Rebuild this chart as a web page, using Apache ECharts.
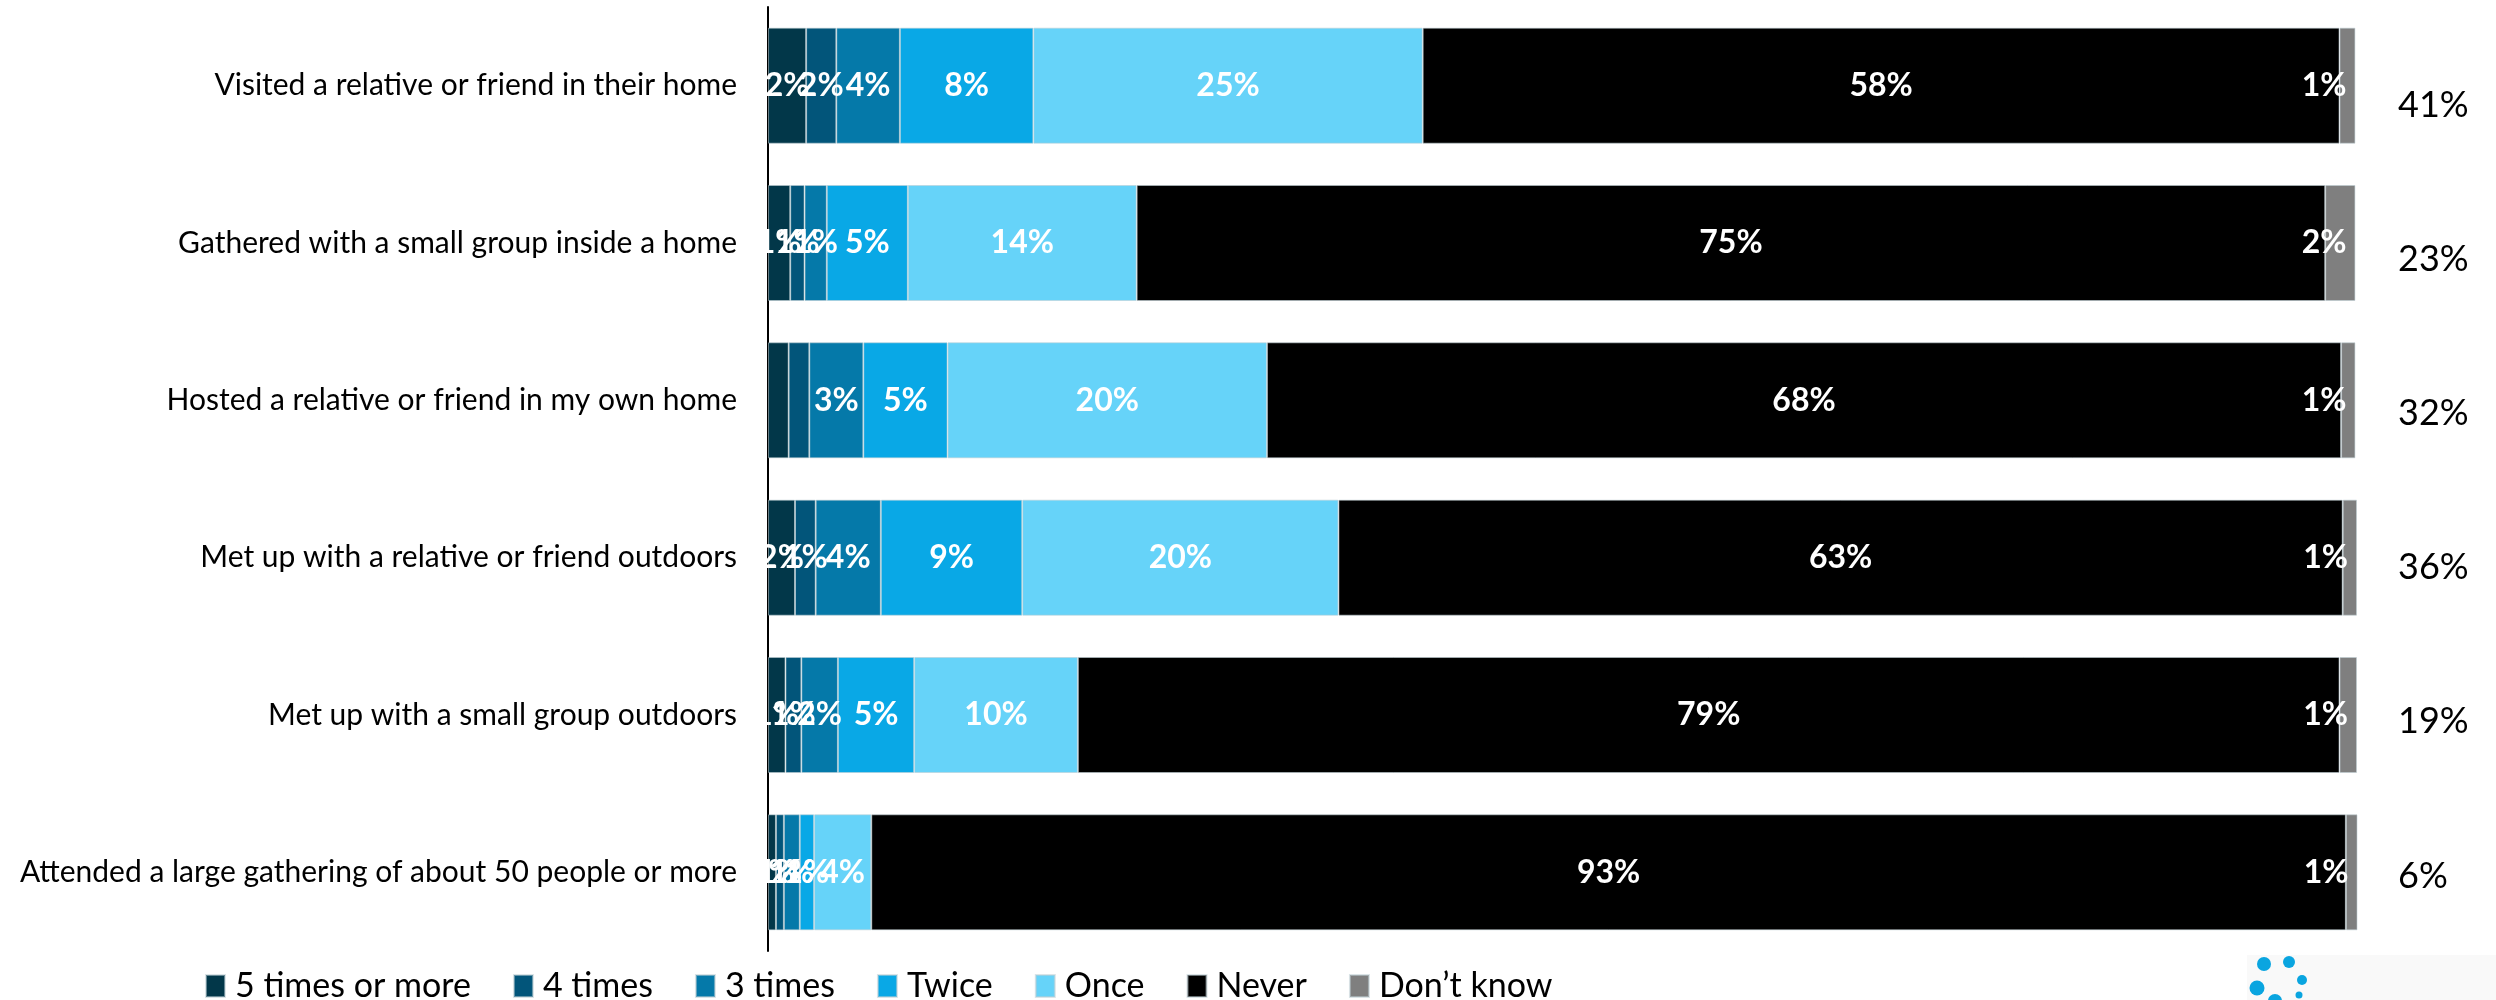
<!DOCTYPE html>
<html>
<head>
<meta charset="utf-8">
<script src="https://cdn.jsdelivr.net/npm/echarts@6/dist/echarts.min.js"></script>
<style>
  html, body { margin: 0; padding: 0; background: #ffffff; }
  #chart { width: 2496px; height: 1000px; }
</style>
</head>
<body>
<div id="chart"></div>
<script>
// Activities, top to bottom
const categories = [
  'Visited a relative or friend in their home',
  'Gathered with a small group inside a home',
  'Hosted a relative or friend in my own home',
  'Met up with a relative or friend outdoors',
  'Met up with a small group outdoors',
  'Attended a large gathering of about 50 people or more'
];

// Share of respondents (%) per answer
const fiveOrMore = [2.4, 1.4, 1.3, 1.7, 1.1, 0.5];
const fourTimes  = [1.9, 0.9, 1.3, 1.3, 1.0, 0.5];
const threeTimes = [4.0, 1.4, 3.4, 4.1, 2.3, 1.0];
const twice      = [8.4, 5.1, 5.3, 8.9, 4.8, 0.9];
const once       = [24.5, 14.4, 20.1, 19.9, 10.3, 3.6];
const never      = [57.7, 74.8, 67.6, 63.2, 79.4, 92.8];
const dontKnow   = [1.0, 1.9, 0.9, 0.9, 1.1, 0.8];

// Net: at least once
const netAtLeastOnce = [41, 23, 32, 36, 19, 6];

const answerNames = ['5 times or more', '4 times', '3 times', 'Twice', 'Once', 'Never', 'Don\u2019t know'];
const answerValues = [fiveOrMore, fourTimes, threeTimes, twice, once, never, dontKnow];
const answerColors = ['#023749', '#02557a', '#0579a9', '#09a8e6', '#66d3f9', '#000000', '#7f7f7f'];

// segments whose value label is left off: [series index, row index]
const unlabeled = [[0, 2], [1, 2]];

const FONT = 'Lato, "Open Sans", sans-serif';

const chart = echarts.init(document.getElementById('chart'), null, { renderer: 'canvas' });

const series = answerNames.map((name, si) => ({
  name: name,
  type: 'bar',
  stack: 'total',
  barWidth: 116,
  xAxisIndex: 0,
  yAxisIndex: 0,
  data: answerValues[si],
  itemStyle: {
    color: answerColors[si],
    borderColor: 'rgba(190,205,212,0.55)',
    borderWidth: 1
  },
  label: {
    show: true,
    position: si === 6 ? 'insideRight' : 'inside',
    distance: si === 6 ? 9 : 5,
    color: '#ffffff',
    fontFamily: FONT,
    fontWeight: 'bold',
    fontSize: 32,
    formatter: p => unlabeled.some(u => u[0] === p.seriesIndex && u[1] === p.dataIndex)
      ? '' : Math.round(p.value) + '%'
  },
  emphasis: { disabled: true },
  animation: false
}));

chart.setOption({
  animation: false,
  backgroundColor: '#ffffff',
  grid: [
    { left: 768, right: 139, top: 7, bottom: 49 },
    { left: 768, right: 139, top: 28, bottom: 47 }
  ],
  xAxis: [
    { type: 'value', gridIndex: 0, min: 0, max: 100, show: false },
    { type: 'value', gridIndex: 1, min: 0, max: 100, show: false }
  ],
  yAxis: [
    {
      type: 'category',
      gridIndex: 0,
      inverse: true,
      data: categories,
      axisLine: { show: true, lineStyle: { color: '#000000', width: 2 } },
      axisTick: { show: false },
      axisLabel: { color: '#000000', fontFamily: FONT, fontSize: 30, margin: 31 }
    },
    {
      type: 'category',
      gridIndex: 1,
      inverse: true,
      position: 'right',
      data: netAtLeastOnce.map(v => v + '%'),
      axisLine: { show: false },
      axisTick: { show: false },
      axisLabel: { color: '#000000', fontFamily: FONT, fontSize: 36, margin: 41 }
    }
  ],
  legend: {
    data: answerNames,
    left: 200,
    top: 964,
    itemWidth: 19,
    itemHeight: 22,
    itemGap: 42,
    icon: 'rect',
    textStyle: { color: '#000000', fontFamily: FONT, fontSize: 34, padding: [0, 0, 0, 5] },
    selectedMode: false
  },
  graphic: [
    { type: 'rect', shape: { x: 2247, y: 955, width: 249, height: 45 }, style: { fill: '#f9f9f9' }, silent: true },
    { type: 'circle', shape: { cx: 2264, cy: 964, r: 7 }, style: { fill: '#0aa5e0' }, silent: true },
    { type: 'circle', shape: { cx: 2289, cy: 962, r: 6 }, style: { fill: '#0aa5e0' }, silent: true },
    { type: 'circle', shape: { cx: 2302, cy: 980, r: 5 }, style: { fill: '#0aa5e0' }, silent: true },
    { type: 'circle', shape: { cx: 2257, cy: 988, r: 7.5 }, style: { fill: '#0aa5e0' }, silent: true },
    { type: 'circle', shape: { cx: 2299, cy: 995, r: 3.5 }, style: { fill: '#0aa5e0' }, silent: true },
    { type: 'circle', shape: { cx: 2275, cy: 1001, r: 7 }, style: { fill: '#0aa5e0' }, silent: true }
  ],
  series: series
});
</script>
</body>
</html>
